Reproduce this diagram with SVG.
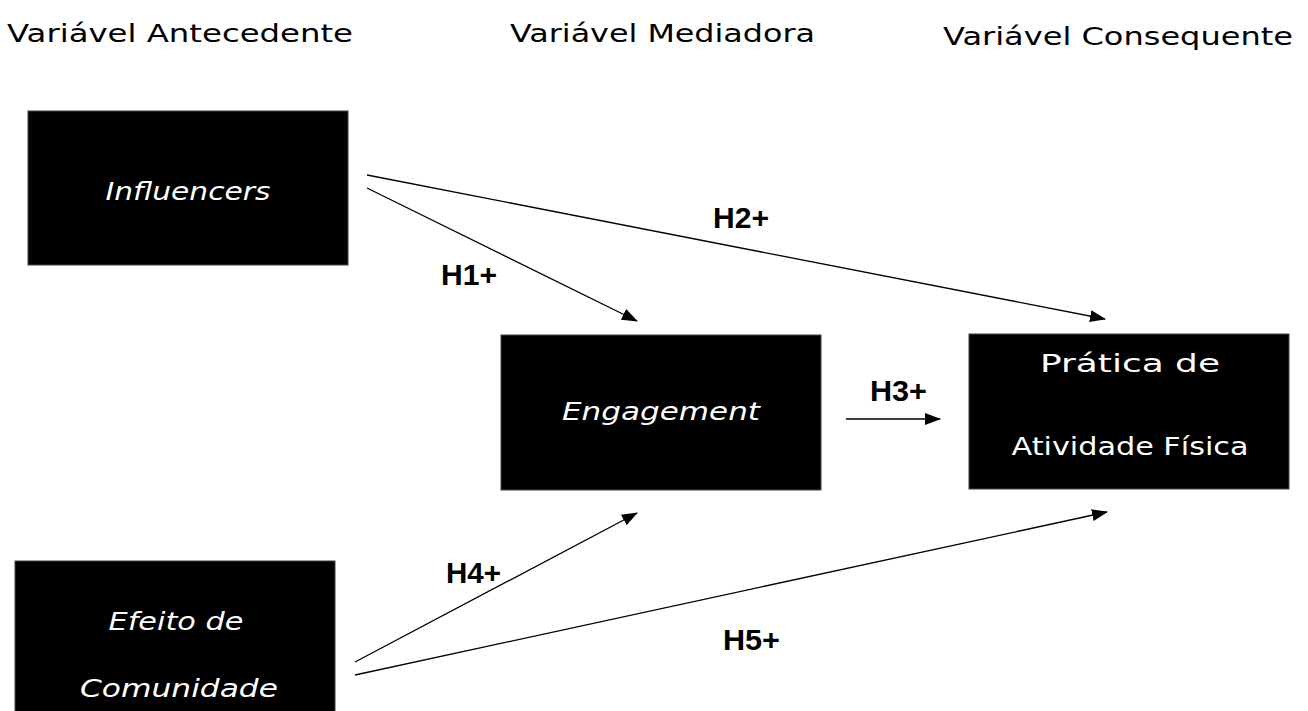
<svg xmlns="http://www.w3.org/2000/svg" width="1308" height="711" viewBox="0 0 1308 711">
<defs>
<style>
.box{fill:#000;stroke:#444;stroke-width:1}
.hdr{font-family:"DejaVu Sans","Liberation Sans",sans-serif;font-size:25px;fill:#000}
.lbl{font-family:"DejaVu Sans","Liberation Sans",sans-serif;font-size:25px;fill:#fff;text-anchor:middle}
.it{font-style:italic}
.h{font-family:"Liberation Sans",Arial,sans-serif;font-size:30px;font-weight:bold;fill:#000}
.con{stroke:#000;stroke-width:1.3;fill:none;marker-end:url(#ah)}
</style>
<marker id="ah" markerWidth="16" markerHeight="12" refX="15" refY="6" orient="auto" markerUnits="userSpaceOnUse">
<path d="M0,0 L16,6 L0,12 Z" fill="#000"/>
</marker>
</defs>
<rect width="1308" height="711" fill="#fff"/>
<g id="headers">
<text class="hdr" x="7" y="42" textLength="346" lengthAdjust="spacingAndGlyphs">Variável Antecedente</text>
<text class="hdr" x="510" y="42" textLength="305" lengthAdjust="spacingAndGlyphs">Variável Mediadora</text>
<text class="hdr" x="943" y="45" textLength="350" lengthAdjust="spacingAndGlyphs">Variável Consequente</text>
</g>
<g id="connectors">
<line class="con" x1="367" y1="175" x2="1105" y2="319"/>
<line class="con" x1="367" y1="188" x2="637" y2="321"/>
<line class="con" x1="846" y1="419" x2="940" y2="419"/>
<line class="con" x1="355" y1="662" x2="637" y2="513"/>
<line class="con" x1="355" y1="675" x2="1107" y2="512"/>
<text class="h" x="441" y="285" textLength="56" lengthAdjust="spacingAndGlyphs">H1+</text>
<text class="h" x="713" y="228" textLength="56" lengthAdjust="spacingAndGlyphs">H2+</text>
<text class="h" x="870" y="401" textLength="57" lengthAdjust="spacingAndGlyphs">H3+</text>
<text class="h" x="446" y="583" textLength="55" lengthAdjust="spacingAndGlyphs">H4+</text>
<text class="h" x="723" y="650" textLength="57" lengthAdjust="spacingAndGlyphs">H5+</text>
</g>
<g id="influencers">
<rect class="box" x="28" y="111" width="320" height="154"/>
<text class="lbl it" x="188" y="200" textLength="165" lengthAdjust="spacingAndGlyphs">Influencers</text>
</g>
<g id="engagement">
<rect class="box" x="501" y="335" width="320" height="155"/>
<text class="lbl it" x="661" y="420" textLength="198" lengthAdjust="spacingAndGlyphs">Engagement</text>
</g>
<g id="pratica">
<rect class="box" x="969" y="334" width="320" height="155"/>
<text class="lbl" x="1130" y="372" textLength="180" lengthAdjust="spacingAndGlyphs">Prática de</text>
<text class="lbl" x="1130" y="455" textLength="237" lengthAdjust="spacingAndGlyphs">Atividade Física</text>
</g>
<g id="efeito">
<rect class="box" x="15" y="561" width="320" height="160"/>
<text class="lbl it" x="176" y="630" textLength="135" lengthAdjust="spacingAndGlyphs">Efeito de</text>
<text class="lbl it" x="179" y="697" textLength="198" lengthAdjust="spacingAndGlyphs">Comunidade</text>
</g>
</svg>
